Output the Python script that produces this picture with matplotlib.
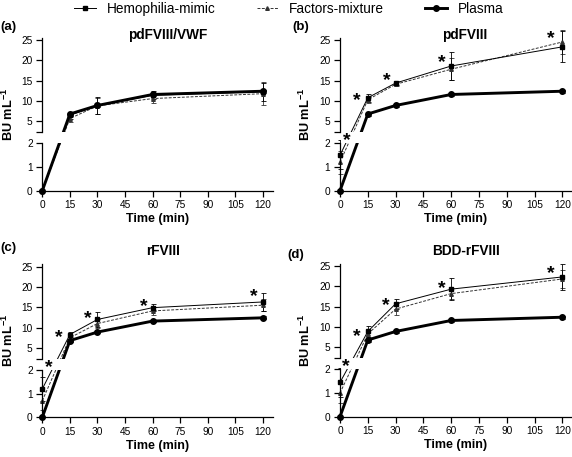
import numpy as np
import matplotlib
matplotlib.use("Agg")
import matplotlib.pyplot as plt
from matplotlib.lines import Line2D

plt.rcParams['font.family'] = ['Liberation Sans', 'DejaVu Sans']
plt.rcParams['mathtext.fontset'] = 'custom'
plt.rcParams['mathtext.rm'] = 'Liberation Sans'
plt.rcParams['mathtext.bf'] = 'Liberation Sans:bold'

# ---------------- data ----------------
time = [0, 15, 30, 60, 120]
xticks = [0, 15, 30, 45, 60, 75, 90, 105, 120]
panel_labels = ['(a)', '(b)', '(c)', '(d)']
titles = ['pdFVIII/VWF', 'pdFVIII', 'rFVIII', 'BDD-rFVIII']
series_names = ['Hemophilia-mimic', 'Factors-mixture', 'Plasma']

plasma = [0, 6.8, 8.9, 11.6, 12.4]
plasma_err = [0, 0.4, 0.3, 0.3, 0.4]

hemo_a = [0, 6.5, 8.9, 11.4, 12.3]
hemo_a_err = [0, 0.9, 2.1, 1.0, 2.2]
fact_a = [0, 5.7, 8.8, 10.6, 11.8]
fact_a_err = [0, 0.8, 2.0, 1.2, 2.8]

hemo_b = [1.5, 10.8, 14.4, 18.6, 23.3]
hemo_b_err = [0.6, 1.0, 0.5, 3.4, 3.8]
fact_b = [1.2, 10.3, 14.1, 17.8, 24.5]
fact_b_err = [0.5, 0.9, 0.5, 2.7, 3.0]

hemo_c = [1.2, 8.3, 12.0, 14.9, 16.3]
hemo_c_err = [0.5, 0.6, 1.9, 0.9, 2.3]
fact_c = [0.7, 7.5, 11.0, 14.1, 15.5]
fact_c_err = [0.4, 0.6, 1.0, 1.0, 1.5]

hemo_d = [1.45, 8.9, 15.7, 19.3, 22.3]
hemo_d_err = [0.6, 1.3, 1.2, 2.7, 3.1]
fact_d = [1.0, 8.3, 14.4, 18.2, 21.8]
fact_d_err = [0.4, 1.0, 1.5, 1.3, 2.2]

hemo_all = [hemo_a, hemo_b, hemo_c, hemo_d]
hemo_err_all = [hemo_a_err, hemo_b_err, hemo_c_err, hemo_d_err]
fact_all = [fact_a, fact_b, fact_c, fact_d]
fact_err_all = [fact_a_err, fact_b_err, fact_c_err, fact_d_err]

# significance stars (x, y)
stars_b_x = [3.6, 9, 25.5, 55, 114]
stars_b_y = [2.18, 11.2, 16.0, 20.4, 26.4]
stars_c_x = [3.3, 9, 24.5, 55.3, 115]
stars_c_y = [2.18, 8.5, 13.3, 16.3, 18.6]
stars_d_x = [3.2, 9.3, 24.6, 55, 114]
stars_d_y = [2.18, 8.6, 16.3, 20.5, 24.1]
stars_x = [[], stars_b_x, stars_c_x, stars_d_x]
stars_y = [[], stars_b_y, stars_c_y, stars_d_y]

# ---------------- broken y scale ----------------
A = 23.5   # px per unit in lower part
G = 11.0   # gap size
B = 4.05   # px per unit in upper part
H5 = 69.0  # position of 5
YB = 5 + (2 * A + G - H5) / B


def fwd(y):
    y = np.asarray(y, float)
    return np.where(y <= 2, y * A,
                    np.where(y <= YB, 2 * A + (y - 2) * G / (YB - 2),
                             H5 + B * (y - 5)))


def inv(h):
    h = np.asarray(h, float)
    return np.where(h <= 2 * A, h / A,
                    np.where(h <= 2 * A + G, 2 + (h - 2 * A) * (YB - 2) / G,
                             5 + (h - H5) / B))


W, H = 572, 457
fig = plt.figure(figsize=(W / 100, H / 100), dpi=100)

# axes positions in pixels: (x0, bottom_px(from top), right_px, top_px)
pos = [(42.3, 190.7, 272.7, 37.7),
       (340.0, 190.7, 572.0, 37.7),
       (42.3, 417.3, 272.7, 264.3),
       (340.0, 416.7, 572.0, 263.7)]
xmax = [125.3, 125.2, 125.3, 125.2]
ylabel_right_px = [16.0, 313.0, 16.0, 313.0]

lw_spine = 0.9
for i in range(4):
    x0, yb_px, x1, yt_px = pos[i]
    ax = fig.add_axes([x0 / W, 1 - yb_px / H, (x1 - x0) / W, (yb_px - yt_px) / H])
    ax.set_yscale('function', functions=(fwd, inv))
    ax.set_xlim(0, xmax[i])
    ax.set_ylim(0, 25.55)
    ax.patch.set_visible(False)
    for s in ['top', 'right', 'left']:
        ax.spines[s].set_visible(False)
    ax.spines['bottom'].set_linewidth(lw_spine)

    # manual left spine pieces
    tr = ax.get_yaxis_transform()
    ax.plot([0, 0], [0, 2], color='black', lw=lw_spine, transform=tr, clip_on=False, zorder=6)
    ax.plot([0, 0], [YB, 25.55], color='black', lw=lw_spine, transform=tr, clip_on=False, zorder=6)

    ax.set_yticks([0, 1, 2, YB, 5, 10, 15, 20, 25])
    ax.set_yticklabels(['0', '1', '2', '', '5', '10', '15', '20', '25'])
    ax.set_xticks(xticks)
    ax.set_xticklabels([str(t) for t in xticks])
    ax.yaxis.set_minor_locator(matplotlib.ticker.NullLocator())
    ax.tick_params(direction='out', length=4, width=lw_spine, labelsize=7.3, pad=3)

    # gap blanking band
    ax.axhspan(2.0, YB, xmin=0.003, xmax=1, color='white', zorder=4, lw=0)

    # series
    ax.errorbar(time, fact_all[i], yerr=fact_err_all[i], color='#333333', lw=0.7,
                ls=(0, (3, 1.5)), marker='^', ms=2.6, elinewidth=0.6, capsize=1.8,
                capthick=0.6, zorder=3, clip_on=False)
    ax.errorbar(time, hemo_all[i], yerr=hemo_err_all[i], color='black', lw=0.7,
                marker='s', ms=2.6, elinewidth=0.6, capsize=1.8, capthick=0.6,
                zorder=3, clip_on=False)
    ax.errorbar(time, plasma, yerr=plasma_err, color='black', lw=2.1,
                marker='o', ms=4, elinewidth=0.8, capsize=1.8, capthick=0.8,
                zorder=3, clip_on=False)

    for sx, sy in zip(stars_x[i], stars_y[i]):
        ax.annotate('*', (sx, sy), xytext=(0, -3), textcoords='offset points',
                    ha='center', va='center', fontsize=14, fontweight='bold',
                    zorder=7, annotation_clip=False)

    ax.set_xlabel('Time (min)', fontsize=9, fontweight='bold', labelpad=2)
    ax.set_ylabel(r'BU mL$^{\mathbf{-1}}$', fontsize=9.2, fontweight='bold')
    ax.yaxis.set_label_coords((ylabel_right_px[i] - x0) / (x1 - x0), 0.5)

# titles and panel labels (figure pixel positions)
title_pos = [(168, 35), (465, 35), (163, 251), (466, 251)]
label_pos = [(0, 27), (292, 27), (0, 248), (287, 255)]
for i in range(4):
    fig.text(title_pos[i][0] / W, 1 - title_pos[i][1] / H, titles[i], ha='center',
             va='center', fontsize=9.8, fontweight='bold')
    fig.text(label_pos[i][0] / W, 1 - label_pos[i][1] / H, panel_labels[i], ha='left',
             va='center', fontsize=9.5, fontweight='bold')

# legend
handles = [Line2D([], [], color='black', lw=0.7, marker='s', ms=2.6),
           Line2D([], [], color='#333333', lw=0.7, ls=(0, (3, 1.5)), marker='^', ms=2.6),
           Line2D([], [], color='black', lw=2.1, marker='o', ms=4)]
fig.legend(handles, series_names, loc='center', bbox_to_anchor=(0.505, 1 - 9 / H),
           ncol=3, frameon=False, fontsize=9.8, handlelength=1.6, handletextpad=0.8,
           columnspacing=3.0, borderpad=0)

fig.savefig('out.png', dpi=100)
